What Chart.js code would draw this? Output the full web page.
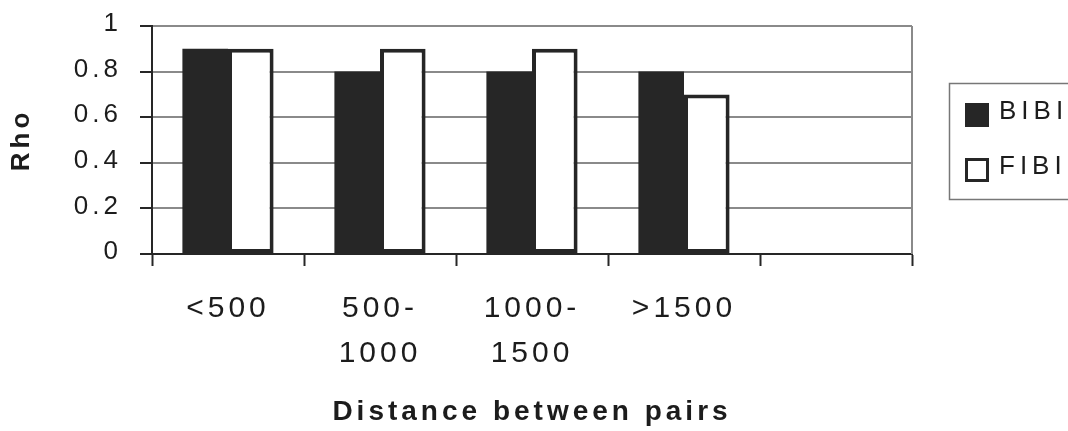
<!DOCTYPE html>
<html>
<head>
<meta charset="utf-8">
<script src="https://cdn.jsdelivr.net/npm/chart.js@4/dist/chart.umd.min.js"></script>
<style>
  html, body { margin: 0; padding: 0; background: #fff; }
  #wrap { width: 1068px; height: 431px; position: relative; }
</style>
</head>
<body>
<div id="wrap"><canvas id="grafico"></canvas></div>
<script>
// Rho por distancia entre pares
const categorias = ['<500', ['500-', '1000'], ['1000-', '1500'], '>1500', ''];
const valoresBIBI = [0.9, 0.8, 0.8, 0.8, null];
const valoresFIBI = [0.9, 0.9, 0.9, 0.7, null];
const ticksY = [0, 0.2, 0.4, 0.6, 0.8, 1];

const oscuro = '#262626';
const texto = '#1c1c1c';
const gris = '#8a8a8a';
const fuente = 'Liberation Sans, Arial, sans-serif';

// espaciado de letras como en el original
const espaciado = {
    id: 'espaciado',
    beforeLayout(chart) { chart.ctx.letterSpacing = '4px'; },
    beforeDraw(chart) { chart.ctx.letterSpacing = '4px'; }
};

// borde derecho del area y leyenda con recuadro
const marcoYLeyenda = {
    id: 'marcoYLeyenda',
    afterDraw(chart) {
        const ctx = chart.ctx;
        const a = chart.chartArea;
        ctx.save();
        ctx.strokeStyle = gris;
        ctx.lineWidth = 2;
        ctx.beginPath();
        ctx.moveTo(a.right, a.top);
        ctx.lineTo(a.right, a.bottom);
        ctx.stroke();

        // leyenda
        ctx.lineWidth = 1.5;
        ctx.strokeStyle = '#777';
        ctx.strokeRect(949.5, 83.5, 140, 116);
        ctx.letterSpacing = '5px';
        ctx.font = '26px ' + fuente;
        ctx.textBaseline = 'middle';
        chart.data.datasets.forEach(function(ds, i) {
            const y = 103 + i * 55;
            ctx.fillStyle = ds.borderWidth ? ds.borderColor : ds.backgroundColor;
            ctx.fillRect(965, y, 24, 24);
            if (ds.borderWidth) {
                ctx.fillStyle = ds.backgroundColor;
                ctx.fillRect(968, y + 3, 18, 18);
            }
            ctx.fillStyle = texto;
            ctx.fillText(ds.label, 999, y + 9);
        });
        ctx.restore();
    }
};

new Chart(document.getElementById('grafico'), {
    type: 'bar',
    data: {
        labels: categorias,
        datasets: [{
            label: 'BIBI',
            data: valoresBIBI,
            backgroundColor: oscuro,
            borderWidth: 0
        }, {
            label: 'FIBI',
            data: valoresFIBI,
            backgroundColor: '#ffffff',
            borderColor: oscuro,
            borderWidth: 4,
            borderSkipped: false
        }]
    },
    options: {
        responsive: true,
        maintainAspectRatio: false,
        animation: false,
        devicePixelRatio: 1,
        layout: {
            autoPadding: false,
            padding: { top: 26, right: 156, bottom: 0, left: 0 }
        },
        datasets: {
            bar: {
                categoryPercentage: 0.6,
                barPercentage: 1
            }
        },
        plugins: {
            legend: { display: false },
            title: { display: false },
            tooltip: { enabled: false }
        },
        scales: {
            x: {
                afterFit: function(scale) { scale.height = 177; },
                grid: {
                    offset: true,
                    drawOnChartArea: false,
                    drawTicks: true,
                    tickLength: 12,
                    tickColor: oscuro,
                    tickWidth: 2
                },
                border: { color: oscuro, width: 2 },
                ticks: {
                    autoSkip: false,
                    maxRotation: 0,
                    minRotation: 0,
                    padding: 20,
                    color: texto,
                    font: { family: fuente, size: 30, lineHeight: 1.5 }
                },
                title: {
                    display: true,
                    text: 'Distance between pairs',
                    color: texto,
                    padding: { top: 0, bottom: 2 },
                    font: { family: fuente, size: 28, weight: 'bold', lineHeight: 1.2 }
                }
            },
            y: {
                min: 0,
                max: 1,
                afterFit: function(scale) {
                    scale.width = 152;
                    // sin margen extra arriba/abajo por las etiquetas
                    scale.paddingTop = 0;
                    scale.paddingBottom = 0;
                },
                afterBuildTicks: function(scale) {
                    scale.ticks = ticksY.map(function(v) { return { value: v }; });
                },
                grid: {
                    color: gris,
                    lineWidth: 2,
                    drawTicks: true,
                    tickLength: 12,
                    tickColor: oscuro,
                    tickWidth: 2
                },
                border: { color: oscuro, width: 2 },
                ticks: {
                    padding: 18,
                    labelOffset: -2,
                    color: texto,
                    font: { family: fuente, size: 26 },
                    callback: function(v) { return String(+v.toFixed(1)); }
                },
                title: {
                    display: true,
                    text: 'Rho',
                    color: texto,
                    padding: { top: 6, bottom: 0 },
                    font: { family: fuente, size: 26, weight: 'bold', lineHeight: 1.2 }
                }
            }
        }
    },
    plugins: [espaciado, marcoYLeyenda]
});
</script>
</body>
</html>
